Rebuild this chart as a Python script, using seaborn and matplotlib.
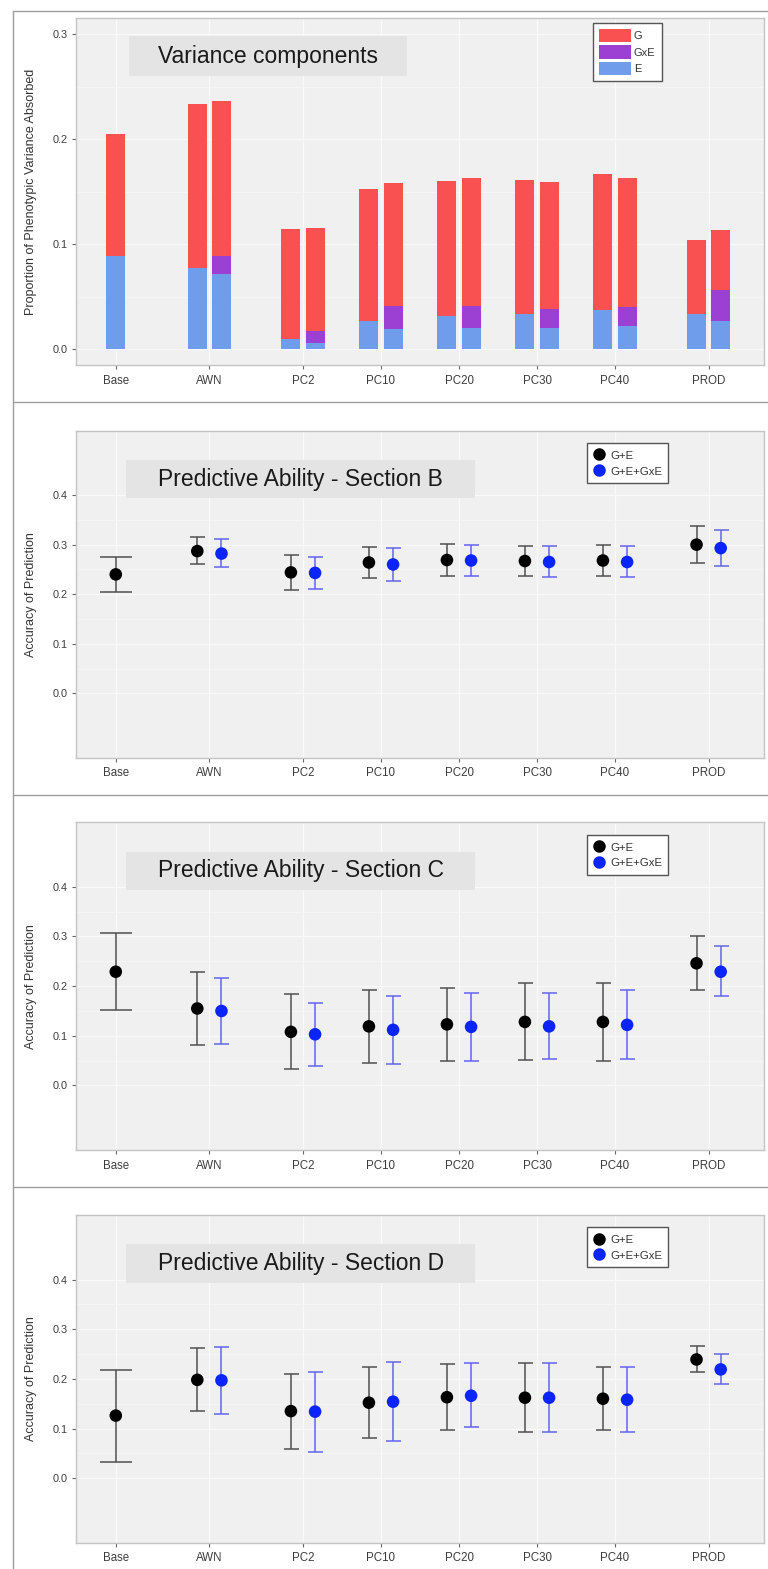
import numpy as np
import pandas as pd
import matplotlib
matplotlib.use("Agg")
import matplotlib.pyplot as plt
from matplotlib.patches import Patch, Rectangle
from matplotlib.lines import Line2D
import seaborn as sns

nan = np.nan

categories = ["Base", "AWN", "PC2", "PC10", "PC20", "PC30", "PC40", "PROD"]
cat_pos = [0.0, 1.2, 2.4, 3.4, 4.4, 5.4, 6.4, 7.6]
models = ["G+E", "G+E+GxE"]

# Variance components (proportion of phenotypic variance)
# G+E model -> left bar, G+E+GxE model -> right bar (Base has only G+E)
ge_E = [0.089, 0.077, 0.010, 0.027, 0.031, 0.033, 0.037, 0.033]
ge_G = [0.116, 0.156, 0.104, 0.125, 0.129, 0.128, 0.130, 0.071]
gxe_E = [nan, 0.071, 0.006, 0.019, 0.020, 0.020, 0.022, 0.027]
gxe_GxE = [nan, 0.018, 0.011, 0.022, 0.021, 0.018, 0.018, 0.029]
gxe_G = [nan, 0.147, 0.098, 0.117, 0.122, 0.121, 0.123, 0.057]

# Predictive ability, Section B
b_ge_mean = [0.240, 0.287, 0.244, 0.264, 0.269, 0.267, 0.268, 0.300]
b_ge_lo = [0.204, 0.260, 0.208, 0.232, 0.237, 0.237, 0.237, 0.262]
b_ge_hi = [0.275, 0.316, 0.279, 0.296, 0.301, 0.297, 0.299, 0.338]
b_gxe_mean = [nan, 0.282, 0.243, 0.260, 0.268, 0.265, 0.265, 0.293]
b_gxe_lo = [nan, 0.255, 0.210, 0.226, 0.237, 0.234, 0.235, 0.256]
b_gxe_hi = [nan, 0.311, 0.276, 0.293, 0.300, 0.297, 0.297, 0.330]

# Section C
c_ge_mean = [0.229, 0.155, 0.108, 0.119, 0.123, 0.128, 0.128, 0.246]
c_ge_lo = [0.151, 0.081, 0.033, 0.046, 0.050, 0.051, 0.050, 0.192]
c_ge_hi = [0.307, 0.229, 0.184, 0.192, 0.196, 0.206, 0.207, 0.301]
c_gxe_mean = [nan, 0.150, 0.103, 0.112, 0.118, 0.119, 0.122, 0.229]
c_gxe_lo = [nan, 0.083, 0.040, 0.044, 0.050, 0.053, 0.053, 0.180]
c_gxe_hi = [nan, 0.217, 0.167, 0.180, 0.187, 0.187, 0.192, 0.280]

# Section D
d_ge_mean = [0.126, 0.198, 0.135, 0.152, 0.163, 0.162, 0.160, 0.239]
d_ge_lo = [0.033, 0.136, 0.059, 0.081, 0.097, 0.092, 0.097, 0.214]
d_ge_hi = [0.218, 0.262, 0.209, 0.224, 0.230, 0.232, 0.223, 0.266]
d_gxe_mean = [nan, 0.197, 0.134, 0.154, 0.166, 0.162, 0.158, 0.219]
d_gxe_lo = [nan, 0.130, 0.052, 0.075, 0.103, 0.093, 0.093, 0.189]
d_gxe_hi = [nan, 0.265, 0.214, 0.234, 0.232, 0.232, 0.223, 0.250]

COL_G, COL_GXE, COL_E = "#f95151", "#9b40d2", "#6f9ceb"
COL_PT = {"G+E": "#000000", "G+E+GxE": "#0a24fb"}
COL_ERR = {"G+E": "#505050", "G+E+GxE": "#6464f0"}
DODGE = 0.155
W, H = 768, 1569

sns.set_theme(style="whitegrid")
plt.rcParams["font.family"] = ["Liberation Sans", "DejaVu Sans"]


def add_axes_px(fig, left, top, right, bottom):
    return fig.add_axes([left / W, 1 - bottom / H, (right - left) / W, (bottom - top) / H])


def style_axes(ax, ylim, yticks):
    ax.set_facecolor("#f0f0f0")
    ax.set_xticks(cat_pos)
    ax.set_xticklabels(categories)
    ax.set_yticks(yticks)
    ax.set_yticklabels([f"{t:.1f}" for t in yticks])
    minor = [t + 0.05 for t in yticks[:-1]]
    ax.set_yticks(minor, minor=True)
    ax.set_xlim(-0.51, 8.31)
    ax.set_ylim(*ylim)
    ax.grid(which="major", axis="both", color="#f9f9f9", lw=1.0)
    ax.grid(which="minor", axis="y", color="#f6f6f6", lw=0.6)
    ax.grid(which="minor", axis="x", visible=False)
    ax.set_axisbelow(True)
    ax.tick_params(axis="x", which="major", labelsize=8.3, colors="#666666", labelcolor="#3c3c3c",
                   length=3, width=0.8, pad=4, bottom=True)
    ax.tick_params(axis="y", which="major", labelsize=7.8, colors="#666666", labelcolor="#3c3c3c",
                   length=3, width=0.8, pad=3, left=True)
    ax.tick_params(which="minor", length=0)
    for sp in ax.spines.values():
        sp.set_color("#c4c4c4")
        sp.set_linewidth(1.0)
    ax.set_xlabel("")


def title_box(ax, text, x0, x1, y0, y1):
    ax.add_patch(Rectangle((x0, y0), x1 - x0, y1 - y0, transform=ax.transAxes,
                           facecolor="#e4e4e4", edgecolor="none", zorder=4))
    ax.text((x0 + x1) / 2, (y0 + y1) / 2, text, transform=ax.transAxes, ha="center",
            va="center", fontsize=16.5, color="#1a1a1a", zorder=5)


def offsets(second):
    # two models -> dodge, single model -> centred
    return [0.0 if np.isnan(s) else -DODGE for s in second]


def style_legend(leg):
    leg.get_frame().set_linewidth(1.0)
    for t in leg.get_texts():
        t.set_color("#333333")


fig = plt.figure(figsize=(W / 100, H / 100), dpi=100)
fig.patch.set_facecolor("white")

# ---- panel A: variance components ----
ax = add_axes_px(fig, 76, 18.3, 764, 365)
style_axes(ax, (-0.0152, 0.315), [0.0, 0.1, 0.2, 0.3])
left_x = np.array(cat_pos) + np.array(offsets(gxe_E))
right_x = np.array(cat_pos) + DODGE
bw = 0.245
ax.bar(left_x, ge_E, width=bw, color=COL_E, linewidth=0, zorder=2)
ax.bar(left_x, ge_G, bottom=ge_E, width=bw, color=COL_G, linewidth=0, zorder=2)
gx_bottom = np.array(gxe_E) + np.array(gxe_GxE)
ax.bar(right_x, gxe_E, width=bw, color=COL_E, linewidth=0, zorder=2)
ax.bar(right_x, gxe_GxE, bottom=gxe_E, width=bw, color=COL_GXE, linewidth=0, zorder=2)
ax.bar(right_x, gxe_G, bottom=gx_bottom, width=bw, color=COL_G, linewidth=0, zorder=2)
ax.set_ylabel("Proportion of Phenotypic Variance Absorbed", fontsize=9, color="#333333")
ax.yaxis.set_label_coords(-0.057, 0.5)
title_box(ax, "Variance components", 0.077, 0.481, 0.833, 0.948)
handles = [Patch(facecolor=c, edgecolor="none", label=l)
           for c, l in [(COL_G, "G"), (COL_GXE, "GxE"), (COL_E, "E")]]
leg = ax.legend(handles=handles, loc="upper left", bbox_to_anchor=(0.752, 0.987), fontsize=8,
                frameon=True, fancybox=False, framealpha=1, edgecolor="#555555",
                handlelength=2.8, handleheight=1.45, handletextpad=0.3, labelspacing=0.3,
                borderpad=0.55, borderaxespad=0)
style_legend(leg)

# ---- panels B, C, D: predictive ability ----
sections = [
    ("B", (430.7, 757.7), b_ge_mean, b_ge_lo, b_ge_hi, b_gxe_mean, b_gxe_lo, b_gxe_hi),
    ("C", (822.3, 1150), c_ge_mean, c_ge_lo, c_ge_hi, c_gxe_mean, c_gxe_lo, c_gxe_hi),
    ("D", (1215, 1542.7), d_ge_mean, d_ge_lo, d_ge_hi, d_gxe_mean, d_gxe_lo, d_gxe_hi),
]

for name, (top, bottom), gm, gl, gh, xm, xl, xh in sections:
    ax = add_axes_px(fig, 76, top, 764, bottom)
    style_axes(ax, (-0.13, 0.53), [0.0, 0.1, 0.2, 0.3, 0.4])
    off = offsets(xm)
    rows = []
    for i, cat in enumerate(categories):
        rows.append(dict(cat=cat, model="G+E", x=cat_pos[i] + off[i], mean=gm[i], lo=gl[i], hi=gh[i],
                         single=off[i] == 0.0))
        if not np.isnan(xm[i]):
            rows.append(dict(cat=cat, model="G+E+GxE", x=cat_pos[i] + DODGE, mean=xm[i], lo=xl[i],
                             hi=xh[i], single=False))
    df = pd.DataFrame(rows)

    for (model, single), sub in df.groupby(["model", "single"]):
        ax.errorbar(sub["x"], sub["mean"],
                    yerr=[sub["mean"] - sub["lo"], sub["hi"] - sub["mean"]],
                    fmt="none", ecolor=COL_ERR[model], elinewidth=1.1, capthick=1.1,
                    capsize=11.5 if single else 5.4, zorder=2)
    sns.scatterplot(data=df, x="x", y="mean", hue="model", hue_order=models,
                    palette=COL_PT, s=82, linewidth=0, edgecolor="none",
                    legend=False, ax=ax, zorder=3)
    ax.set_xlabel("")
    ax.set_ylabel("Accuracy of Prediction", fontsize=9, color="#333333")
    ax.yaxis.set_label_coords(-0.057, 0.5)
    title_box(ax, f"Predictive Ability - Section {name}", 0.073, 0.58, 0.794, 0.910)

    handles = [Line2D([], [], marker="o", linestyle="none", markersize=9,
                      markerfacecolor=COL_PT[m], markeredgecolor="none", label=m)
               for m in models]
    leg = ax.legend(handles=handles, loc="upper left", bbox_to_anchor=(0.743, 0.962), fontsize=8.2,
                    frameon=True, fancybox=False, framealpha=1, edgecolor="#555555",
                    handlelength=1.0, handleheight=1.2, handletextpad=0.45, labelspacing=0.35,
                    borderpad=0.55, borderaxespad=0)
    style_legend(leg)

# outer frames around the four panels
frame_kw = dict(color="#9d9d9d", lw=1.0, transform=fig.transFigure)
fig.add_artist(Line2D([13 / W, 13 / W], [0, 1 - 10.7 / H], **frame_kw))
for yy in [10.7, 402, 795, 1187]:
    fig.add_artist(Line2D([13 / W, 1], [1 - yy / H, 1 - yy / H], **frame_kw))

fig.savefig("out.png", dpi=100, facecolor="white")
